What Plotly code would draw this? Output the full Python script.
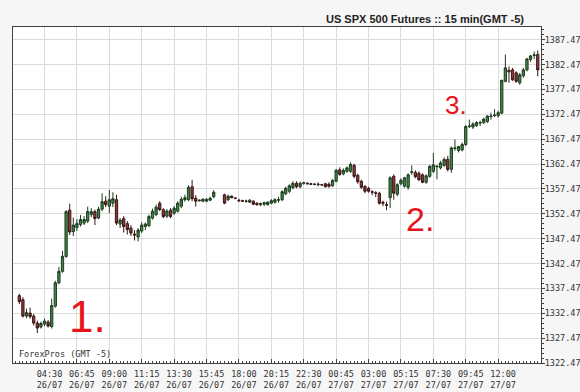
import pandas as pd
import plotly.graph_objects as go

# ---- data (15-min bars, US SPX 500 Futures, GMT-5) ----
open_ = [1336.0, 1335.2, 1331.9, 1332.5, 1331.9, 1330.5, 1329.7, 1330.3, 1330.7, 1329.8,
         1333.9, 1338.6, 1340.9, 1343.9, 1353.2, 1348.9, 1349.7, 1350.3, 1350.6, 1351.0,
         1352.3, 1352.9, 1351.6, 1353.4, 1355.0, 1354.0, 1354.6, 1355.3, 1350.4, 1351.5,
         1350.5, 1349.6, 1348.4, 1347.8, 1349.0, 1349.9, 1350.1, 1351.6, 1352.3, 1354.6,
         1353.3, 1352.0, 1353.2, 1352.6, 1353.0, 1354.0, 1355.3, 1355.3, 1357.9, 1355.6,
         1355.1, 1355.0, 1355.0, 1355.2, 1355.9,
         1356.3, 1355.3, 1356.0, 1355.6, 1355.2, 1355.1, 1355.0, 1354.8, 1355.0, 1354.6,
         1354.3, 1354.4, 1354.3, 1354.6, 1354.8, 1355.2, 1355.3, 1356.5, 1357.0, 1357.7,
         1358.6, 1357.9, 1358.6, 1358.6, 1358.5, 1358.4, 1358.3, 1358.3, 1358.5, 1358.4,
         1358.1, 1359.0, 1361.3, 1360.5, 1361.0, 1361.0, 1362.2, 1360.2, 1359.0, 1358.0,
         1357.6, 1356.9, 1356.7, 1356.6, 1354.8, 1354.3, 1355.7, 1360.0, 1356.4, 1358.5,
         1358.0, 1357.8, 1360.8, 1360.8, 1360.6, 1360.3, 1358.8, 1360.0, 1361.0, 1361.9,
         1361.7, 1362.2, 1363.4, 1361.4, 1365.6, 1365.2, 1365.3, 1366.4, 1370.0, 1369.9,
         1370.2, 1370.7, 1370.8, 1371.0, 1372.0, 1372.2, 1372.2, 1372.7, 1379.1, 1381.3,
         1381.4, 1380.8, 1378.8, 1380.2, 1381.4, 1383.5, 1384.3, 1384.5]
high = [1336.4, 1335.7, 1333.4, 1333.6, 1332.3, 1331.0, 1330.8, 1331.4, 1331.1, 1335.4,
        1339.0, 1341.8, 1345.0, 1353.2, 1354.5, 1351.7, 1351.4, 1352.2, 1352.0, 1353.9,
        1353.6, 1353.3, 1353.9, 1356.6, 1356.0, 1357.3, 1356.8, 1356.3, 1351.6, 1352.0,
        1351.0, 1350.2, 1349.2, 1349.6, 1350.8, 1350.7, 1352.3, 1353.5, 1354.3, 1355.0,
        1353.6, 1353.4, 1353.6, 1354.0, 1355.0, 1355.9, 1356.3, 1358.2, 1359.3, 1356.2,
        1355.3, 1355.6, 1355.6, 1355.9, 1357.2,
        1356.5, 1356.3, 1356.2, 1355.8, 1355.5, 1355.3, 1355.3, 1355.4, 1355.2, 1354.8,
        1354.7, 1354.9, 1355.0, 1355.4, 1355.6, 1355.9, 1357.2, 1357.9, 1358.4, 1359.0,
        1359.0, 1358.9, 1358.9, 1358.8, 1358.7, 1358.6, 1358.8, 1358.5, 1358.7, 1358.8,
        1359.4, 1361.5, 1361.8, 1361.6, 1362.0, 1362.8, 1362.5, 1360.5, 1359.3, 1358.2,
        1357.9, 1357.2, 1357.0, 1356.9, 1355.1, 1354.9, 1360.0, 1360.4, 1358.6, 1359.6,
        1359.9, 1360.6, 1362.2, 1361.2, 1361.0, 1360.6, 1360.4, 1362.3, 1364.7, 1362.3,
        1363.1, 1363.8, 1364.1, 1366.0, 1367.4, 1366.1, 1366.8, 1370.3, 1371.4, 1370.9,
        1371.1, 1371.2, 1371.8, 1372.3, 1372.8, 1373.5, 1373.2, 1379.4, 1384.5, 1382.1,
        1381.8, 1381.1, 1380.8, 1381.8, 1383.8, 1384.4, 1385.1, 1385.3]
low = [1334.3, 1331.6, 1331.5, 1331.4, 1330.0, 1328.5, 1329.4, 1329.9, 1329.6, 1329.4,
       1333.6, 1338.3, 1340.6, 1343.6, 1348.2, 1348.0, 1349.0, 1349.9, 1350.2, 1350.6,
       1351.8, 1350.2, 1351.4, 1353.0, 1353.8, 1352.6, 1353.8, 1350.2, 1349.6, 1348.7,
       1348.3, 1348.0, 1347.1, 1346.9, 1348.6, 1349.2, 1349.8, 1351.3, 1352.0, 1353.0,
       1351.6, 1351.6, 1351.6, 1352.2, 1352.7, 1353.6, 1354.9, 1355.0, 1355.0, 1353.9,
       1354.9, 1354.8, 1354.8, 1355.0, 1355.6,
       1354.4, 1355.0, 1355.6, 1355.4, 1354.8, 1354.9, 1354.7, 1354.7, 1354.2, 1354.1,
       1354.0, 1354.0, 1354.1, 1354.4, 1354.5, 1354.7, 1355.0, 1356.2, 1356.6, 1357.4,
       1357.6, 1357.6, 1358.3, 1358.4, 1358.3, 1358.2, 1358.0, 1358.1, 1357.8, 1357.7,
       1357.9, 1358.8, 1360.1, 1360.2, 1360.7, 1360.7, 1359.6, 1358.5, 1357.5, 1356.6,
       1356.7, 1356.2, 1355.8, 1354.3, 1354.0, 1353.2, 1353.6, 1355.3, 1356.0, 1358.2,
       1357.7, 1357.3, 1360.3, 1359.6, 1359.1, 1358.6, 1358.5, 1359.7, 1360.7, 1359.4,
       1361.4, 1361.9, 1361.0, 1360.7, 1365.1, 1364.8, 1365.0, 1366.1, 1369.7, 1369.5,
       1369.9, 1370.1, 1370.5, 1370.7, 1371.4, 1371.9, 1371.8, 1372.5, 1378.9, 1378.8,
       1379.2, 1378.8, 1378.4, 1379.8, 1381.1, 1383.0, 1383.6, 1380.1]
close = [1334.8, 1331.9, 1332.6, 1331.8, 1330.5, 1329.5, 1330.4, 1330.9, 1329.9, 1334.0,
         1338.6, 1340.9, 1343.9, 1352.9, 1348.8, 1350.2, 1350.5, 1351.3, 1351.3, 1352.9,
         1352.9, 1351.5, 1353.4, 1354.9, 1354.3, 1355.3, 1355.5, 1350.6, 1351.2, 1349.9,
         1349.3, 1348.6, 1348.2, 1349.2, 1350.2, 1350.4, 1351.9, 1353.0, 1353.8, 1353.3,
         1351.9, 1353.0, 1351.9, 1353.6, 1354.6, 1355.4, 1355.7, 1357.8, 1355.5, 1355.0,
         1355.2, 1355.4, 1355.4, 1355.6, 1356.8,
         1354.6, 1356.0, 1355.7, 1355.6, 1355.1, 1355.0, 1355.0, 1355.2, 1354.4, 1354.3,
         1354.5, 1354.7, 1354.8, 1355.1, 1355.3, 1355.3, 1356.9, 1357.6, 1358.1, 1358.6,
         1357.9, 1358.6, 1358.7, 1358.5, 1358.4, 1358.4, 1358.4, 1358.3, 1357.9, 1358.0,
         1359.2, 1361.2, 1360.4, 1361.2, 1361.7, 1362.4, 1360.0, 1358.9, 1357.8, 1357.0,
         1357.0, 1356.8, 1356.6, 1354.6, 1354.6, 1354.2, 1359.7, 1356.6, 1358.3, 1359.2,
         1359.7, 1360.3, 1360.9, 1359.9, 1359.3, 1358.8, 1360.1, 1362.0, 1362.3, 1362.0,
         1362.7, 1363.4, 1361.4, 1365.7, 1365.7, 1366.0, 1366.4, 1370.0, 1370.1, 1370.5,
         1370.8, 1370.8, 1371.5, 1372.1, 1372.1, 1372.3, 1372.8, 1379.3, 1381.8, 1381.0,
         1379.4, 1379.1, 1380.4, 1381.4, 1383.6, 1384.2, 1384.4, 1381.4]

first_bar = "2012-07-26 02:45"
n_slots = 145
halt_slots = [55, 56]          # no trading in these two 15-min slots

tick_times = ["2012-07-26 04:30", "2012-07-26 06:45", "2012-07-26 09:00", "2012-07-26 11:15",
              "2012-07-26 13:30", "2012-07-26 15:45", "2012-07-26 18:00", "2012-07-26 20:15",
              "2012-07-26 22:30", "2012-07-27 00:45", "2012-07-27 03:00", "2012-07-27 05:15",
              "2012-07-27 07:30", "2012-07-27 09:45", "2012-07-27 12:00"]
tick_text = ["04:30<br>26/07", "06:45<br>26/07", "09:00<br>26/07", "11:15<br>26/07",
             "13:30<br>26/07", "15:45<br>26/07", "18:00<br>26/07", "20:15<br>26/07",
             "22:30<br>26/07", "00:45<br>27/07", "03:00<br>27/07", "05:15<br>27/07",
             "07:30<br>27/07", "09:45<br>27/07", "12:00<br>27/07"]
price_ticks = [1322.47, 1327.47, 1332.47, 1337.47, 1342.47, 1347.47, 1352.47,
               1357.47, 1362.47, 1367.47, 1372.47, 1377.47, 1382.47, 1387.47]

start = pd.Timestamp(first_bar)
step = pd.Timedelta(minutes=15)
times = [start + step * i for i in range(n_slots) if i not in halt_slots]

mono = "DejaVu Sans Mono"
axis_col = "#404040"

fig = go.Figure(go.Candlestick(
    x=times, open=open_, high=high, low=low, close=close,
    increasing=dict(fillcolor="#3f8a4a", line=dict(color="#1e3a1e", width=1)),
    decreasing=dict(fillcolor="#8f3a3a", line=dict(color="#3a1515", width=1)),
    whiskerwidth=0, showlegend=False, hoverinfo="skip",
))

fig.update_layout(
    width=580, height=392,
    margin=dict(l=13, r=39, t=27, b=29, pad=0),
    paper_bgcolor="#f6f6f6", plot_bgcolor="#ffffff",
    boxgap=0.1,
    xaxis=dict(
        type="date", automargin=False,
        range=[start - step * 1.75, start + step * 144.9],
        rangeslider=dict(visible=False),
        tickmode="array", tickvals=tick_times, ticktext=tick_text,
        showgrid=True, gridcolor="#dcdcdc", gridwidth=1,
        showline=True, mirror=True, linecolor=axis_col, linewidth=1,
        ticks="inside", ticklen=4, tickcolor=axis_col,
        minor=dict(tick0=first_bar, dtick=900000, ticks="inside", ticklen=2,
                   tickcolor=axis_col, showgrid=False),
        tickfont=dict(family=mono, size=8.5, color="#333333"),
        ticklabelshift=5, ticklabelstandoff=3,
        zeroline=False,
    ),
    yaxis=dict(
        side="right", automargin=False,
        range=[1322.47, 1390.02],
        tickmode="array", tickvals=price_ticks, tickformat=".2f",
        showgrid=True, gridcolor="#dcdcdc", gridwidth=1,
        showline=True, mirror=True, linecolor=axis_col, linewidth=1,
        ticks="outside", ticklen=3, tickcolor=axis_col,
        minor=dict(tick0=1322.47, dtick=1, ticks="outside", ticklen=2,
                   tickcolor=axis_col, showgrid=False),
        tickfont=dict(family=mono, size=8.5, color="#333333"),
        ticklabelstandoff=-2,
        zeroline=False,
    ),
    annotations=[
        dict(text="<b>US SPX 500 Futures :: 15 min(GMT -5)</b>", xref="paper", yref="paper",
             x=0.9716, y=1.0, xanchor="right", yanchor="bottom", showarrow=False,
             font=dict(family="Liberation Sans", size=11, color="#222222")),
        dict(text="ForexPros (GMT -5)", xref="paper", yref="paper",
             x=0.007, y=0.027, xanchor="left", yanchor="middle", showarrow=False,
             font=dict(family=mono, size=8.5, color="#333333")),
        dict(text="1.", xref="paper", yref="paper", x=0.142, y=0.137,
             xanchor="center", yanchor="middle", showarrow=False,
             font=dict(family="Liberation Sans", size=44, color="#e8141b")),
        dict(text="2.", xref="paper", yref="paper", x=0.771, y=0.429,
             xanchor="center", yanchor="middle", showarrow=False,
             font=dict(family="Liberation Sans", size=34, color="#e8141b")),
        dict(text="3.", xref="paper", yref="paper", x=0.839, y=0.768,
             xanchor="center", yanchor="middle", showarrow=False,
             font=dict(family="Liberation Sans", size=26, color="#e8141b")),
    ],
)

fig.write_html("out.html")
